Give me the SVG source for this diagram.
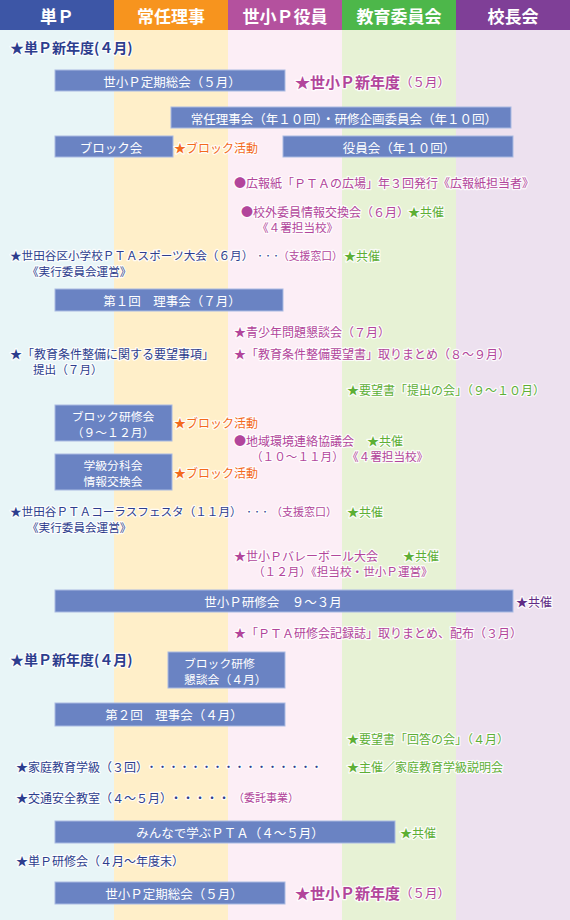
<svg xmlns="http://www.w3.org/2000/svg" width="570" height="920" viewBox="0 0 570 920">
<style>
text{font-family:"Noto Sans CJK JP","Noto Sans CJK SC",sans-serif;dominant-baseline:central}
.h{font-size:17px;font-weight:bold;fill:#fff;text-anchor:middle}
.t{font-size:12px;paint-order:stroke;stroke:#fff;stroke-width:2.5px;stroke-linejoin:round;stroke-opacity:.85}
.s{font-size:11.6px}
.big{font-size:14px;font-weight:bold}
.b{fill:#2D3D8E}.m{fill:#B2459B}.g{fill:#5DAF35}.o{fill:#F36A1D}.p{fill:#5F2B85}
.box{fill:#6A83C3;stroke:#A9BAE2;stroke-width:1}
.bx{font-size:12.5px;fill:#fff;text-anchor:middle}
.b2{font-size:11.8px;fill:#fff;text-anchor:middle}
.bs{font-size:11.8px;fill:#fff}
</style>
<g id="background">
<rect x="0" y="30" width="114" height="890" fill="#E8F5F7"/>
<rect x="114" y="30" width="114" height="890" fill="#FFEFC9"/>
<rect x="228" y="30" width="114" height="890" fill="#FCEEF6"/>
<rect x="342" y="30" width="114" height="890" fill="#E7F2D5"/>
<rect x="456" y="30" width="114" height="890" fill="#EDE1EF"/>
</g>
<g id="header">
<rect x="0" y="0" width="114" height="30" fill="#3D56A6"/>
<rect x="114" y="0" width="114" height="30" fill="#F7941E"/>
<rect x="228" y="0" width="114" height="30" fill="#B4519E"/>
<rect x="342" y="0" width="114" height="30" fill="#4DB74A"/>
<rect x="456" y="0" width="114" height="30" fill="#7F3F97"/>
<text class="h" x="57" y="15">単Ｐ</text>
<text class="h" x="171" y="15">常任理事</text>
<text class="h" x="285" y="15">世小Ｐ役員</text>
<text class="h" x="399" y="15">教育委員会</text>
<text class="h" x="513" y="15">校長会</text>
</g>
<g id="connectors"/>
<g id="n1"><text class="t b big" x="10" y="47">★単Ｐ新年度(４月)</text></g>
<g id="n2"><rect class="box" x="55" y="70" width="230" height="21"/><text class="bx" x="172" y="81">世小Ｐ定期総会（５月）</text></g>
<g id="n3"><text class="t m" x="295" y="81"><tspan style="font-size:15px;font-weight:bold">★世小Ｐ新年度</tspan><tspan style="font-size:12.5px">（５月）</tspan></text></g>
<g id="n4"><rect class="box" x="171" y="107" width="340" height="21"/><text class="bx" x="344" y="118">常任理事会（年１０回）・研修企画委員会（年１０回）</text></g>
<g id="n5"><rect class="box" x="55" y="136" width="118" height="21"/><text class="bx" x="111" y="147">ブロック会</text></g>
<g id="n6"><text class="t o" x="174" y="147">★ブロック活動</text></g>
<g id="n7"><rect class="box" x="283" y="136" width="230" height="21"/><text class="bx" x="399" y="147">役員会（年１０回）</text></g>
<g id="n8"><text class="t m" x="234" y="182">●広報紙「ＰＴＡの広場」年３回発行《広報紙担当者》</text></g>
<g id="n9"><text class="t m" x="241" y="211">●校外委員情報交換会（６月）</text><text class="t g" x="408" y="211">★共催</text><text class="t m s" x="257" y="227">《４署担当校》</text></g>
<g id="n10"><text class="t b" x="10" y="255" style="font-size:11.6px">★世田谷区小学校ＰＴＡスポーツ大会（６月）</text><text class="t b" x="256" y="255" style="font-size:8px">・・・</text><text class="t m" x="278" y="255" style="font-size:10.8px">（支援窓口）</text><text class="t g" x="344" y="255">★共催</text><text class="t b s" x="27" y="271">《実行委員会運営》</text></g>
<g id="n11"><rect class="box" x="55" y="289" width="228" height="22"/><text class="bx" x="172" y="300">第１回　理事会（７月）</text></g>
<g id="n12"><text class="t m" x="234" y="331">★青少年問題懇談会（７月）</text></g>
<g id="n13"><text class="t b" x="10" y="353">★「教育条件整備に関する要望事項」</text><text class="t b s" x="33" y="369">提出（７月）</text></g>
<g id="n14"><text class="t m" x="234" y="353">★「教育条件整備要望書」取りまとめ（８～９月）</text></g>
<g id="n15"><text class="t g" x="347" y="389">★要望書「提出の会」（９～１０月）</text></g>
<g id="n16"><rect class="box" x="55" y="405" width="117" height="36"/><text class="b2" x="113" y="415">ブロック研修会</text><text class="b2" x="113" y="431">（９～１２月）</text></g>
<g id="n17"><text class="t o" x="174" y="422">★ブロック活動</text></g>
<g id="n18"><text class="t m" x="234" y="440">●地域環境連絡協議会</text><text class="t g" x="367" y="440">★共催</text><text class="t m s" x="251" y="456">（１０～１１月）</text><text class="t m s" x="347" y="456">《４署担当校》</text></g>
<g id="n19"><rect class="box" x="55" y="454" width="117" height="36"/><text class="b2" x="113" y="464">学級分科会</text><text class="b2" x="113" y="480">情報交換会</text></g>
<g id="n20"><text class="t o" x="174" y="472">★ブロック活動</text></g>
<g id="n21"><text class="t b" x="10" y="511" style="font-size:11.6px">★世田谷ＰＴＡコーラスフェスタ（１１月）</text><text class="t b" x="245" y="511" style="font-size:8px">・・・</text><text class="t m" x="271" y="511" style="font-size:11px">（支援窓口）</text><text class="t g" x="347" y="511">★共催</text><text class="t b s" x="27" y="527">《実行委員会運営》</text></g>
<g id="n22"><text class="t m" x="234" y="555">★世小Ｐバレーボール大会</text><text class="t g" x="403" y="555">★共催</text><text class="t m s" x="253" y="571">（１２月）《担当校・世小Ｐ運営》</text></g>
<g id="n23"><rect class="box" x="55" y="590" width="458" height="22"/><text class="bx" x="273" y="601">世小Ｐ研修会　９～３月</text></g>
<g id="n24"><text class="t p" x="516" y="601">★共催</text></g>
<g id="n25"><text class="t m" x="234" y="632">★「ＰＴＡ研修会記録誌」取りまとめ、配布（３月）</text></g>
<g id="n26"><text class="t b big" x="10" y="659">★単Ｐ新年度(４月)</text></g>
<g id="n27"><rect class="box" x="168" y="652" width="117" height="36"/><text class="bs" x="184" y="662">ブロック研修</text><text class="bs" x="184" y="678">懇談会（４月）</text></g>
<g id="n28"><rect class="box" x="55" y="703" width="230" height="23"/><text class="bx" x="174" y="714">第２回　理事会（４月）</text></g>
<g id="n29"><text class="t g" x="347" y="738">★要望書「回答の会」（４月）</text></g>
<g id="n30"><text class="t b" x="16" y="766">★家庭教育学級（３回）</text><text class="t b" x="146" y="766" style="font-size:11px">・・・・・・・・・・・・・・・・</text><text class="t g" x="347" y="766">★主催／家庭教育学級説明会</text></g>
<g id="n31"><text class="t b" x="16" y="797">★交通安全教室（４～５月）</text><text class="t b" x="170" y="797" style="font-size:12px">・・・・・</text><text class="t m" x="233" y="797" style="font-size:11px">（委託事業）</text></g>
<g id="n32"><rect class="box" x="55" y="821" width="340" height="22"/><text class="bx" x="230" y="832">みんなで学ぶＰＴＡ（４～５月）</text></g>
<g id="n33"><text class="t g" x="400" y="832">★共催</text></g>
<g id="n34"><text class="t b" x="16" y="860">★単Ｐ研修会（４月～年度末）</text></g>
<g id="n35"><rect class="box" x="55" y="882" width="230" height="22"/><text class="bx" x="174" y="893">世小Ｐ定期総会（５月）</text></g>
<g id="n36"><text class="t m" x="295" y="892"><tspan style="font-size:15px;font-weight:bold">★世小Ｐ新年度</tspan><tspan style="font-size:12.5px">（５月）</tspan></text></g>
</svg>
